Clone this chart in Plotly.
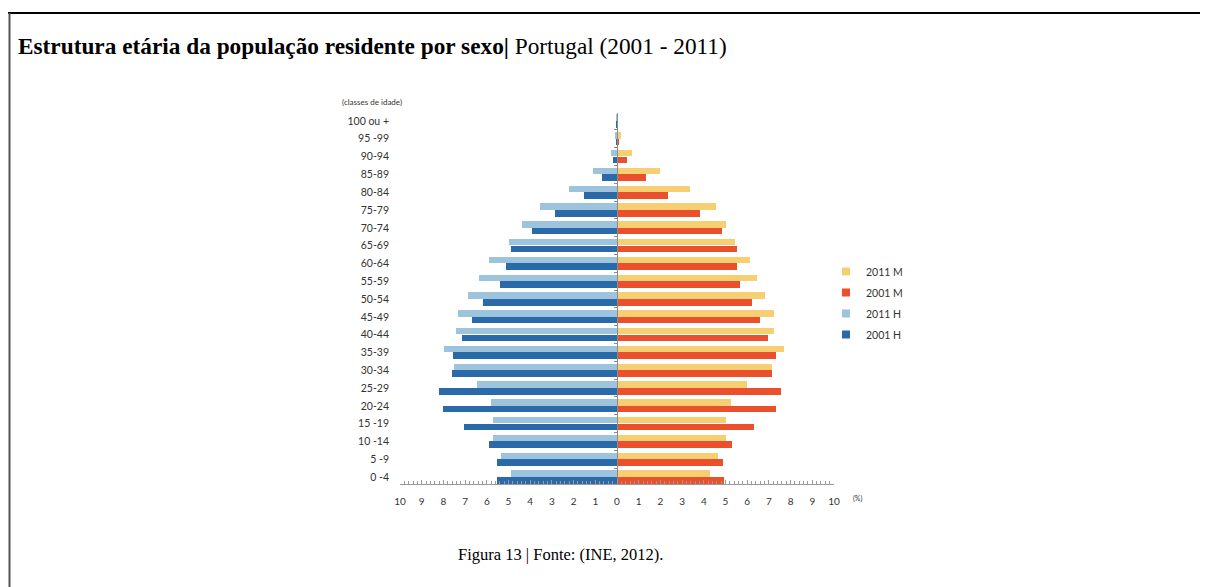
import plotly.graph_objects as go

age_groups = ["0 -4", "5 -9", "10 -14", "15 -19", "20-24", "25-29", "30-34", "35-39",
              "40-44", "45-49", "50-54", "55-59", "60-64", "65-69", "70-74", "75-79",
              "80-84", "85-89", "90-94", "95 -99", "100 ou +"]

m_2011 = [4.29, 4.65, 5.02, 5.02, 5.25, 6.00, 7.15, 7.68, 7.23, 7.25, 6.82,
          6.46, 6.11, 5.42, 5.00, 4.54, 3.35, 1.97, 0.68, 0.20, 0.02]
m_2001 = [4.92, 4.89, 5.29, 6.31, 7.31, 7.57, 7.14, 7.32, 6.94, 6.60, 6.23,
          5.66, 5.51, 5.51, 4.82, 3.82, 2.35, 1.34, 0.45, 0.08, 0.01]
h_2011 = [4.88, 5.34, 5.72, 5.72, 5.80, 6.43, 7.52, 7.97, 7.43, 7.35, 6.88,
          6.38, 5.92, 5.00, 4.37, 3.57, 2.23, 1.09, 0.28, 0.08, 0.01]
h_2001 = [5.51, 5.51, 5.92, 7.03, 8.02, 8.18, 7.60, 7.58, 7.15, 6.66, 6.18,
          5.38, 5.12, 4.88, 3.92, 2.86, 1.51, 0.71, 0.18, 0.02, 0.005]

x_ticks = list(range(-10, 11))
x_tick_text = [str(abs(v)) for v in x_ticks]

series_names = ["2011 M", "2001 M", "2011 H", "2001 H"]
C_M11 = "#F6CF72"
C_M01 = "#E9502B"
C_H11 = "#9DC3DD"
C_H01 = "#2A6AA8"
colors = [C_M11, C_M01, C_H11, C_H01]

pos = list(range(len(age_groups)))

# page body has an 8px margin -> work in reference-pixel coordinates and shift
OFF = 8
W, H = 1208 - OFF, 587 - OFF
L = 400 - OFF
R = W - (834 - OFF)
T = 113 - OFF
B = H - (484 - OFF)
pw, ph = W - L - R, H - T - B

def px(x):
    return (x - OFF - L) / pw

def py(y):
    return (H - B - (y - OFF)) / ph

fig = go.Figure()
values = [m_2011, m_2001, [-v for v in h_2011], [-v for v in h_2001]]
offsets = [0.01, -0.37, 0.01, -0.37]
widths = [0.36, 0.37, 0.36, 0.37]
for name, vals, col, off, wd in zip(series_names, values, colors, offsets, widths):
    fig.add_trace(go.Bar(y=pos, x=vals, orientation="h", name=name,
                         marker=dict(color=col, line=dict(width=0)),
                         offset=off, width=wd, showlegend=False))

# legend entries (small square swatches)
for i, (name, col) in enumerate(zip(series_names, colors)):
    fig.add_trace(go.Scatter(x=[None], y=[None], mode="markers", name=name,
                             marker=dict(symbol="square", size=8, color=col),
                             legendgroup=str(i), showlegend=True))

fig.update_layout(
    width=W, height=H,
    margin=dict(l=L, r=R, t=T, b=B, pad=0),
    paper_bgcolor="white", plot_bgcolor="white",
    barmode="overlay",
    font=dict(family="Lato, 'Open Sans', sans-serif", size=10, color="#333333"),
    title=dict(
        text="<b>Estrutura etária da população residente por sexo|</b> Portugal (2001 - 2011)",
        font=dict(family="'Liberation Serif', 'Times New Roman', serif", size=23.3, color="black"),
        xref="container", yref="container", x=(18 - OFF) / W, y=1 - (46 - OFF) / H,
        xanchor="left", yanchor="middle"),
    xaxis=dict(range=[-10, 10], tickvals=x_ticks, ticktext=x_tick_text,
               showgrid=False, zeroline=False, showline=True, linecolor="#9a9a9a",
               linewidth=1, ticks="inside", ticklen=4, tickcolor="#9a9a9a",
               minor=dict(dtick=0.2, tick0=0, ticks="inside", ticklen=3, tickcolor="#9a9a9a"),
               tickfont=dict(size=10, color="#333333"), ticklabelstandoff=8,
               fixedrange=True),
    yaxis=dict(range=[-0.39, 20.45], tickvals=pos, ticktext=age_groups,
               showgrid=False, zeroline=False, showline=False, ticks="",
               tickfont=dict(size=10.5, color="#333333"), ticklabelstandoff=10),
    yaxis2=dict(range=[-0.39, 20.45], overlaying="y", anchor="free", position=0.5,
                side="left", showline=True, linecolor="#8c8c8c", linewidth=1,
                tickvals=[p + 0.5 for p in pos], ticks="outside", ticklen=3,
                tickcolor="#8c8c8c", showticklabels=False, showgrid=False, zeroline=False),
    legend=dict(x=px(826), y=py(257), xanchor="left", yanchor="top",
                font=dict(size=10.5, color="#333333"), traceorder="grouped",
                tracegroupgap=2, itemwidth=30, bgcolor="rgba(0,0,0,0)"),
    bargap=0,
)

fig.add_trace(go.Scatter(x=[0], y=[0], yaxis="y2", mode="markers",
                         marker=dict(opacity=0), showlegend=False, hoverinfo="skip"))

fig.add_annotation(text="(classes de idade)", xref="paper", yref="paper",
                   x=px(372), y=py(102), showarrow=False,
                   font=dict(size=8, color="#333333"), xanchor="center", yanchor="middle")
fig.add_annotation(text="(%)", xref="paper", yref="paper",
                   x=px(857), y=py(498), showarrow=False,
                   font=dict(size=7, color="#333333"), xanchor="center", yanchor="middle")
fig.add_annotation(text="Figura 13 | Fonte: (INE, 2012).", xref="paper", yref="paper",
                   x=px(560), y=py(554), showarrow=False,
                   font=dict(family="'Liberation Serif', 'Times New Roman', serif", size=16.5, color="black"),
                   xanchor="center", yanchor="middle")

fig.add_shape(type="line", xref="paper", yref="paper",
              x0=px(8), x1=px(1208), y0=py(13), y1=py(13),
              line=dict(color="black", width=2))
fig.add_shape(type="line", xref="paper", yref="paper",
              x0=px(9.5), x1=px(9.5), y0=py(13), y1=py(590),
              line=dict(color="#555555", width=2))

fig.write_html("out.html")
